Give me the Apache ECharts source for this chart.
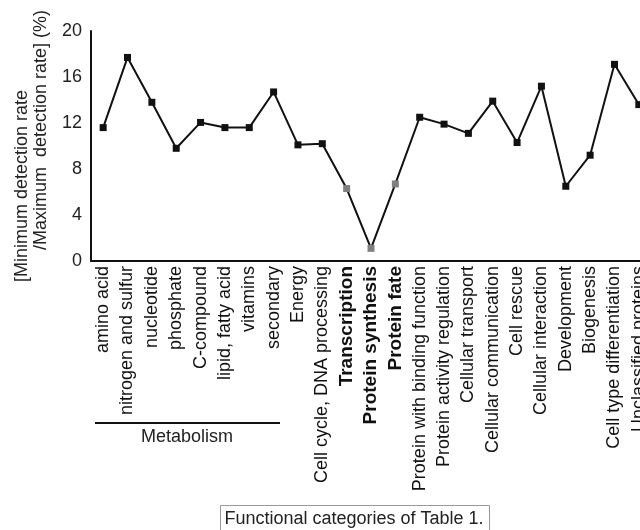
<!DOCTYPE html>
<html>
<head>
<meta charset="utf-8">
<script src="https://cdn.jsdelivr.net/npm/echarts@6/dist/echarts.min.js"></script>
<style>
  html, body { margin: 0; padding: 0; background: #fff; }
  #chart { width: 640px; height: 530px; }
</style>
</head>
<body>
<div id="chart"></div>
<script>
// categories along the x axis
var categories = [
  'amino acid', 'nitrogen and sulfur', 'nucleotide', 'phosphate', 'C-compound',
  'lipid, fatty acid', 'vitamins', 'secondary', 'Energy', 'Cell cycle, DNA processing',
  'Transcription', 'Protein synthesis', 'Protein fate', 'Protein with binding function',
  'Protein activity regulation', 'Cellular transport', 'Cellular communication',
  'Cell rescue', 'Cellular interaction', 'Development', 'Biogenesis',
  'Cell type differentiation', 'Unclassified proteins'
];

// ratio values (%)
var ratios = [
  11.6, 17.7, 13.8, 9.8, 12.05, 11.6, 11.6, 14.7, 10.1, 10.2,
  6.3, 1.1, 6.7, 12.5, 11.9, 11.1, 13.9, 10.3, 15.2, 6.5, 9.2, 17.1, 13.6
];

// categories drawn in bold with grey markers
var highlighted = ['Transcription', 'Protein synthesis', 'Protein fate'];

var yTicks = { min: 0, max: 20, interval: 4 };

var yTitle = ['[Minimum detection rate', '/Maximum  detection rate] (%)'];

var font = 'Liberation Sans, Arial, sans-serif';

var chart = echarts.init(document.getElementById('chart'));

var axisData = categories.map(function (c) {
  if (highlighted.indexOf(c) >= 0) {
    return { value: c, textStyle: { fontWeight: 'bold', fontSize: 19 } };
  }
  return c;
});

var seriesData = ratios.map(function (v, i) {
  if (highlighted.indexOf(categories[i]) >= 0) {
    return { value: v, itemStyle: { color: '#808080' } };
  }
  return v;
});

function vText(str, x, y) {
  return {
    type: 'text',
    x: x, y: y,
    rotation: Math.PI / 2,
    style: {
      text: str, fill: '#222', font: '18px ' + font,
      textAlign: 'center', textVerticalAlign: 'middle'
    }
  };
}

chart.setOption({
  animation: false,
  grid: { left: 91, top: 31, bottom: 269, width: 560, containLabel: false, outerBoundsMode: 'none' },
  xAxis: {
    type: 'category',
    data: axisData,
    boundaryGap: true,
    axisLine: { lineStyle: { color: '#111', width: 2 } },
    axisTick: { show: false },
    axisLabel: {
      rotate: 90,
      interval: 0,
      margin: 5,
      color: '#111',
      fontSize: 18,
      fontFamily: font
    }
  },
  yAxis: {
    type: 'value',
    min: yTicks.min,
    max: yTicks.max,
    interval: yTicks.interval,
    axisLine: { show: true, lineStyle: { color: '#111', width: 2 } },
    axisTick: { show: false },
    splitLine: { show: false },
    axisLabel: { color: '#222', fontSize: 18, fontFamily: font, margin: 9 }
  },
  series: [{
    type: 'line',
    data: seriesData,
    symbol: 'rect',
    symbolSize: 7,
    lineStyle: { color: '#111', width: 2 },
    itemStyle: { color: '#111' }
  }],
  graphic: [
    vText(yTitle[0], 22, 186),
    vText(yTitle[1], 41, 130),
    {
      type: 'line',
      shape: { x1: 95, y1: 423, x2: 280, y2: 423 },
      style: { stroke: '#111', lineWidth: 2 }
    },
    {
      type: 'text',
      x: 187, y: 437,
      style: {
        text: 'Metabolism', fill: '#222', font: '18px ' + font,
        textAlign: 'center', textVerticalAlign: 'middle'
      }
    },
    {
      type: 'rect',
      shape: { x: 220.5, y: 505.5, width: 269, height: 27 },
      style: { fill: '#fff', stroke: '#999', lineWidth: 1 }
    },
    {
      type: 'text',
      x: 354, y: 519,
      style: {
        text: 'Functional categories of Table 1.', fill: '#222', font: '18px ' + font,
        textAlign: 'center', textVerticalAlign: 'middle'
      }
    }
  ]
});
</script>
</body>
</html>
